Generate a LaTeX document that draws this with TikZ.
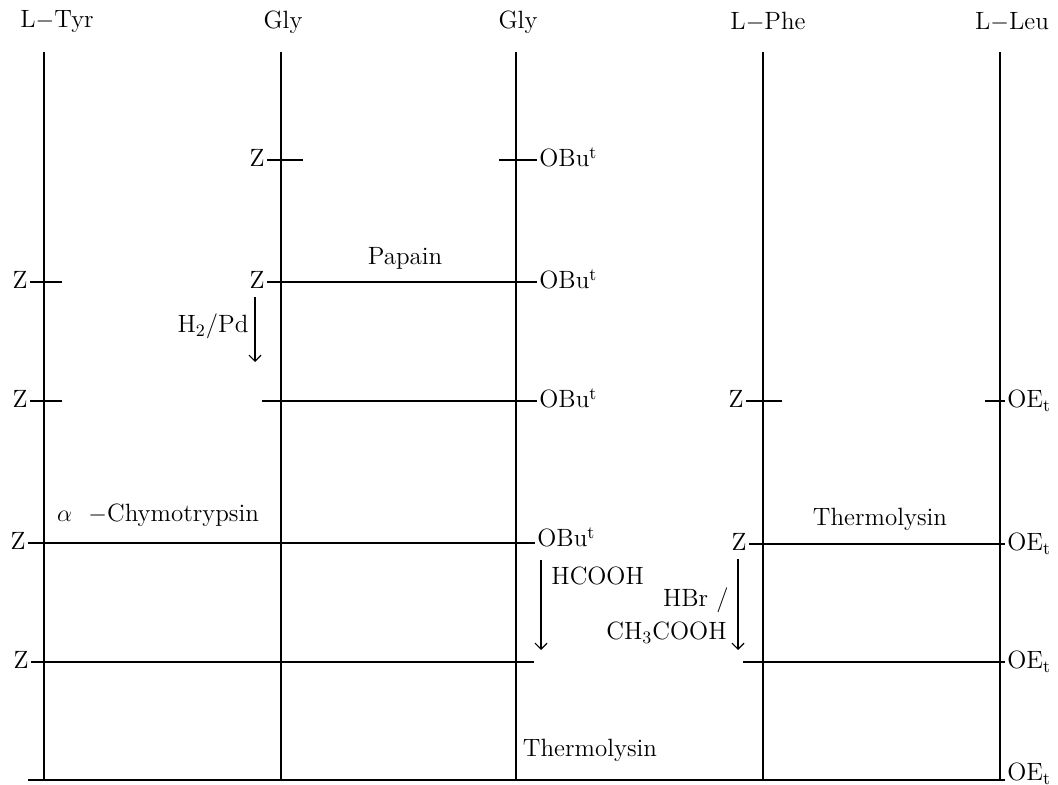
\documentclass[tikz,border=0pt]{standalone}
\usetikzlibrary{arrows.meta}
\begin{document}
\begin{tikzpicture}[x=0.5pt, y=-0.5pt, >={Straight Barb[length=3pt,width=6pt]},
    lbl/.style={font=\fontsize{12.5}{15}\selectfont, inner sep=1pt},
    grp/.style={lbl, text height=1.6ex, text depth=0pt},
    bond/.style={line width=0.6pt}]
    % 1. Fixed frame
    \useasboundingbox (0,0) rectangle (1058,785);

    % 2. Residue headers and their chains
    \node[lbl] (tyr) at (57,22) {L$-$Tyr};
    \node[lbl] (glyA) at (283,22) {Gly};
    \node[lbl] (glyB) at (518,22) {Gly};
    \node[lbl] (phe) at (768,22) {L$-$Phe};
    \node[lbl] (leu) at (1012,22) {L$-$Leu};
    \coordinate (tyrT) at (44,52);   \coordinate (tyrB) at (44,780);
    \coordinate (glyAT) at (281,52); \coordinate (glyAB) at (281,780);
    \coordinate (glyBT) at (516,52); \coordinate (glyBB) at (516,780);
    \coordinate (pheT) at (763,52);  \coordinate (pheB) at (763,780);
    \coordinate (leuT) at (1000,52); \coordinate (leuB) at (1000,780);
    \draw[bond] (tyrT) -- (tyrB);
    \draw[bond] (glyAT) -- (glyAB);
    \draw[bond] (glyBT) -- (glyBB);
    \draw[bond] (pheT) -- (pheB);
    \draw[bond] (leuT) -- (leuB);

    % 3. Z-Gly and Gly-OBut
    \node[grp, anchor=east] (zA) at (267,160) {Z};
    \coordinate (zAend) at (303,160);
    \draw[bond] (zA.east) -- (zAend);
    \node[grp, anchor=west] (obA) at (537,160) {OBu\textsuperscript{t}};
    \coordinate (obAend) at (499,160);
    \draw[bond] (obAend) -- (obA.west);

    % 4. Papain step
    \node[grp, anchor=east] (zB) at (30,282) {Z};
    \coordinate (zBend) at (62,282);
    \draw[bond] (zB.east) -- (zBend);
    \node[grp, anchor=east] (zC) at (267,282) {Z};
    \node[grp, anchor=west] (obB) at (537,282) {OBu\textsuperscript{t}};
    \draw[bond] (zC.east) -- (obB.west);
    \node[lbl] (papain) at (405,258) {Papain};

    % H2/Pd
    \coordinate (hEnd) at (255,362);
    \draw[bond, ->, shorten <=3pt] (zC.south -| hEnd) -- (hEnd)
        node[lbl, midway, left=2pt] (h2pd) {H\textsubscript{2}/Pd};

    % 5. Third row
    \node[grp, anchor=east] (zD) at (30,401) {Z};
    \coordinate (zDend) at (62,401);
    \draw[bond] (zD.east) -- (zDend);
    \coordinate (glyC) at (262,401);
    \node[grp, anchor=west] (obC) at (537,401) {OBu\textsuperscript{t}};
    \draw[bond] (glyC) -- (obC.west);
    \node[grp, anchor=east] (zE) at (746,401) {Z};
    \coordinate (zEend) at (782,401);
    \draw[bond] (zE.east) -- (zEend);
    \coordinate (leuA) at (985,401);
    \node[grp, anchor=west] (oeA) at (1005,401) {OE\textsubscript{t}};
    \draw[bond] (leuA) -- (oeA.west);

    % 6. alpha-Chymotrypsin and Thermolysin
    \node[grp, anchor=east] (zF) at (28,543) {Z};
    \node[grp, anchor=west] (obD) at (535,540) {OBu\textsuperscript{t}};
    \draw[bond] (zF.east) -- (obD.west |- zF.east);
    \node[lbl] (chymo) at (158,515) {$\alpha$\ \ $-$Chymotrypsin};
    \node[grp, anchor=east] (zG) at (749,544) {Z};
    \node[grp, anchor=west] (oeB) at (1005,544) {OE\textsubscript{t}};
    \draw[bond] (zG.east) -- (oeB.west);
    \node[lbl] (thermoA) at (880,519) {Thermolysin};

    % HCOOH
    \coordinate (fA) at (541,560);
    \coordinate (fB) at (541,650);
    \draw[bond, ->] (fA) -- (fB);
    \node[lbl, anchor=west] (hcooh) at (549,576) {HCOOH};

    % HBr/CH3COOH
    \coordinate (bB) at (738,650);
    \draw[bond, ->, shorten <=3pt] (zG.south -| bB) -- (bB);
    \node[lbl, anchor=east] (hbr) at (731,600) {HBr /};
    \node[lbl, anchor=east] (acoh) at (729,633) {CH\textsubscript{3}COOH};

    % 7. Fifth row
    \node[grp, anchor=east] (zH) at (31,662) {Z};
    \coordinate (glyD) at (534,662);
    \draw[bond] (zH.east) -- (glyD);
    \coordinate (pheC) at (743,662);
    \node[grp, anchor=west] (oeC) at (1005,662) {OE\textsubscript{t}};
    \draw[bond] (pheC) -- (oeC.west);

    % 8. Final coupling
    \coordinate (tyrC) at (28,780);
    \node[grp, anchor=south west] (oeD) at (1005,783) {OE\textsubscript{t}};
    \draw[bond] (tyrC) -- (oeD.south west |- tyrC);
    \node[lbl] (thermoB) at (590,750) {Thermolysin};
\end{tikzpicture}
\end{document}
